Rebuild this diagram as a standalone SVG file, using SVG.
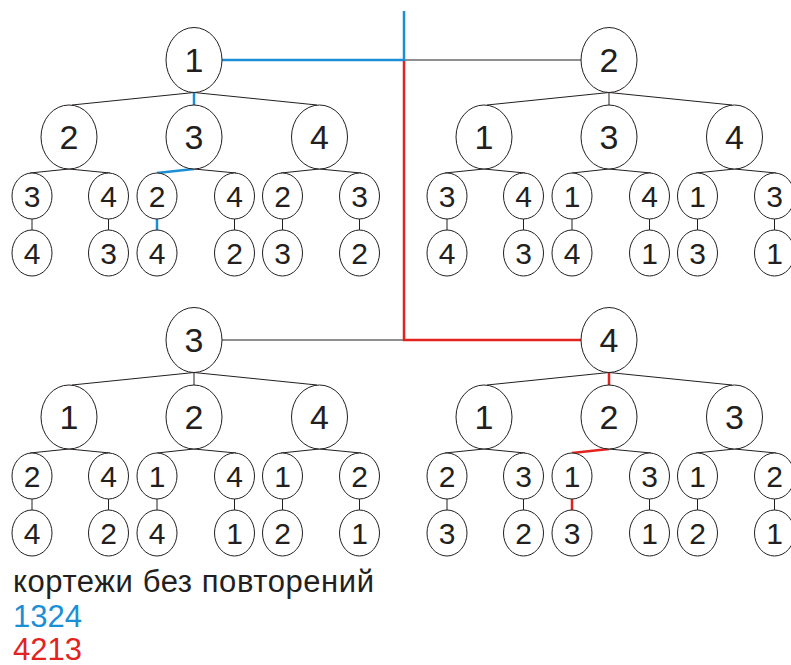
<svg xmlns="http://www.w3.org/2000/svg" width="791" height="665" viewBox="0 0 791 665">
<style>
  .n ellipse { fill: #ffffff; stroke: #231f20; stroke-width: 1; }
  .n text { font-family: "Liberation Sans", Arial, sans-serif; fill: #231f20; text-anchor: middle; }
  .b text { font-size: 34px; }
  .s text { font-size: 30px; }
  .c line { stroke: #231f20; stroke-width: 1; }
  .c line.blue { stroke: #1b8fd6; stroke-width: 2.5; }
  .c line.red { stroke: #e2231f; stroke-width: 2.5; }
  .lbl { font-family: "Liberation Sans", Arial, sans-serif; font-size: 31px; }
</style>
<defs>
  <g id="tree-lines" stroke="#231f20" stroke-width="1">
    <line x1="194" y1="92.5" x2="72" y2="105"/>
    <line x1="194" y1="92.5" x2="317" y2="105"/>
    <line x1="69" y1="169" x2="30" y2="173"/>
    <line x1="69" y1="169" x2="110" y2="173"/>
    <line x1="194" y1="169" x2="236" y2="173"/>
    <line x1="319.5" y1="169" x2="281" y2="173"/>
    <line x1="319.5" y1="169" x2="361" y2="173"/>
    <line x1="32" y1="219" x2="32" y2="230"/>
    <line x1="108.5" y1="219" x2="108.5" y2="230"/>
    <line x1="234.5" y1="219" x2="234.5" y2="230"/>
    <line x1="282.5" y1="219" x2="282.5" y2="230"/>
    <line x1="359.5" y1="219" x2="359.5" y2="230"/>
  </g>
</defs>
<g id="connectors" class="c">
  <line x1="404" y1="60" x2="581" y2="60"/>
  <line x1="222" y1="340" x2="404" y2="340"/>
  <line class="blue" x1="404" y1="11" x2="404" y2="61"/>
  <line class="blue" x1="222" y1="60" x2="404" y2="60"/>
  <line class="red" x1="404" y1="61" x2="404" y2="341"/>
  <line class="red" x1="403" y1="340" x2="581" y2="340"/>
  <g id="lines-t1">
    <use href="#tree-lines"/>
    <line class="blue" x1="194" y1="92.5" x2="194" y2="105"/>
    <line class="blue" x1="194" y1="169" x2="157" y2="173"/>
    <line class="blue" x1="157" y1="219" x2="157" y2="230"/>
  </g>
  <g id="lines-t2" transform="translate(415,0)">
    <use href="#tree-lines"/>
    <line x1="194" y1="92.5" x2="194" y2="105"/>
    <line x1="194" y1="169" x2="157" y2="173"/>
    <line x1="157" y1="219" x2="157" y2="230"/>
  </g>
  <g id="lines-t3" transform="translate(0,280)">
    <use href="#tree-lines"/>
    <line x1="194" y1="92.5" x2="194" y2="105"/>
    <line x1="194" y1="169" x2="157" y2="173"/>
    <line x1="157" y1="219" x2="157" y2="230"/>
  </g>
  <g id="lines-t4" transform="translate(415,280)">
    <use href="#tree-lines"/>
    <line class="red" x1="194" y1="92.5" x2="194" y2="105"/>
    <line class="red" x1="194" y1="169" x2="157" y2="173"/>
    <line class="red" x1="157" y1="219" x2="157" y2="230"/>
  </g>
</g>

<g id="tree1">
  <g id="t1-root" class="n b"><ellipse cx="194" cy="60" rx="28" ry="32.5"/><text x="194" y="72">1</text></g>
  <g id="t1-a" class="n b"><ellipse cx="69" cy="137" rx="28" ry="32"/><text x="69" y="149">2</text></g>
  <g id="t1-b" class="n b"><ellipse cx="194" cy="137" rx="28" ry="32"/><text x="194" y="149">3</text></g>
  <g id="t1-c" class="n b"><ellipse cx="319.5" cy="137" rx="28" ry="32"/><text x="319.5" y="149">4</text></g>
  <g id="t1-a1" class="n s"><ellipse cx="32" cy="196" rx="20" ry="23"/><text x="32" y="206.8">3</text></g>
  <g id="t1-a2" class="n s"><ellipse cx="108.5" cy="196" rx="20" ry="23"/><text x="108.5" y="206.8">4</text></g>
  <g id="t1-b1" class="n s"><ellipse cx="157" cy="196" rx="20" ry="23"/><text x="157" y="206.8">2</text></g>
  <g id="t1-b2" class="n s"><ellipse cx="234.5" cy="196" rx="20" ry="23"/><text x="234.5" y="206.8">4</text></g>
  <g id="t1-c1" class="n s"><ellipse cx="282.5" cy="196" rx="20" ry="23"/><text x="282.5" y="206.8">2</text></g>
  <g id="t1-c2" class="n s"><ellipse cx="359.5" cy="196" rx="20" ry="23"/><text x="359.5" y="206.8">3</text></g>
  <g id="t1-a1x" class="n s"><ellipse cx="32" cy="253" rx="20" ry="23"/><text x="32" y="263.8">4</text></g>
  <g id="t1-a2x" class="n s"><ellipse cx="108.5" cy="253" rx="20" ry="23"/><text x="108.5" y="263.8">3</text></g>
  <g id="t1-b1x" class="n s"><ellipse cx="157" cy="253" rx="20" ry="23"/><text x="157" y="263.8">4</text></g>
  <g id="t1-b2x" class="n s"><ellipse cx="234.5" cy="253" rx="20" ry="23"/><text x="234.5" y="263.8">2</text></g>
  <g id="t1-c1x" class="n s"><ellipse cx="282.5" cy="253" rx="20" ry="23"/><text x="282.5" y="263.8">3</text></g>
  <g id="t1-c2x" class="n s"><ellipse cx="359.5" cy="253" rx="20" ry="23"/><text x="359.5" y="263.8">2</text></g>
</g>

<g id="tree2" transform="translate(415,0)">
  <g id="t2-root" class="n b"><ellipse cx="194" cy="60" rx="28" ry="32.5"/><text x="194" y="72">2</text></g>
  <g id="t2-a" class="n b"><ellipse cx="69" cy="137" rx="28" ry="32"/><text x="69" y="149">1</text></g>
  <g id="t2-b" class="n b"><ellipse cx="194" cy="137" rx="28" ry="32"/><text x="194" y="149">3</text></g>
  <g id="t2-c" class="n b"><ellipse cx="319.5" cy="137" rx="28" ry="32"/><text x="319.5" y="149">4</text></g>
  <g id="t2-a1" class="n s"><ellipse cx="32" cy="196" rx="20" ry="23"/><text x="32" y="206.8">3</text></g>
  <g id="t2-a2" class="n s"><ellipse cx="108.5" cy="196" rx="20" ry="23"/><text x="108.5" y="206.8">4</text></g>
  <g id="t2-b1" class="n s"><ellipse cx="157" cy="196" rx="20" ry="23"/><text x="157" y="206.8">1</text></g>
  <g id="t2-b2" class="n s"><ellipse cx="234.5" cy="196" rx="20" ry="23"/><text x="234.5" y="206.8">4</text></g>
  <g id="t2-c1" class="n s"><ellipse cx="282.5" cy="196" rx="20" ry="23"/><text x="282.5" y="206.8">1</text></g>
  <g id="t2-c2" class="n s"><ellipse cx="359.5" cy="196" rx="20" ry="23"/><text x="359.5" y="206.8">3</text></g>
  <g id="t2-a1x" class="n s"><ellipse cx="32" cy="253" rx="20" ry="23"/><text x="32" y="263.8">4</text></g>
  <g id="t2-a2x" class="n s"><ellipse cx="108.5" cy="253" rx="20" ry="23"/><text x="108.5" y="263.8">3</text></g>
  <g id="t2-b1x" class="n s"><ellipse cx="157" cy="253" rx="20" ry="23"/><text x="157" y="263.8">4</text></g>
  <g id="t2-b2x" class="n s"><ellipse cx="234.5" cy="253" rx="20" ry="23"/><text x="234.5" y="263.8">1</text></g>
  <g id="t2-c1x" class="n s"><ellipse cx="282.5" cy="253" rx="20" ry="23"/><text x="282.5" y="263.8">3</text></g>
  <g id="t2-c2x" class="n s"><ellipse cx="359.5" cy="253" rx="20" ry="23"/><text x="359.5" y="263.8">1</text></g>
</g>

<g id="tree3" transform="translate(0,280)">
  <g id="t3-root" class="n b"><ellipse cx="194" cy="60" rx="28" ry="32.5"/><text x="194" y="72">3</text></g>
  <g id="t3-a" class="n b"><ellipse cx="69" cy="137" rx="28" ry="32"/><text x="69" y="149">1</text></g>
  <g id="t3-b" class="n b"><ellipse cx="194" cy="137" rx="28" ry="32"/><text x="194" y="149">2</text></g>
  <g id="t3-c" class="n b"><ellipse cx="319.5" cy="137" rx="28" ry="32"/><text x="319.5" y="149">4</text></g>
  <g id="t3-a1" class="n s"><ellipse cx="32" cy="196" rx="20" ry="23"/><text x="32" y="206.8">2</text></g>
  <g id="t3-a2" class="n s"><ellipse cx="108.5" cy="196" rx="20" ry="23"/><text x="108.5" y="206.8">4</text></g>
  <g id="t3-b1" class="n s"><ellipse cx="157" cy="196" rx="20" ry="23"/><text x="157" y="206.8">1</text></g>
  <g id="t3-b2" class="n s"><ellipse cx="234.5" cy="196" rx="20" ry="23"/><text x="234.5" y="206.8">4</text></g>
  <g id="t3-c1" class="n s"><ellipse cx="282.5" cy="196" rx="20" ry="23"/><text x="282.5" y="206.8">1</text></g>
  <g id="t3-c2" class="n s"><ellipse cx="359.5" cy="196" rx="20" ry="23"/><text x="359.5" y="206.8">2</text></g>
  <g id="t3-a1x" class="n s"><ellipse cx="32" cy="253" rx="20" ry="23"/><text x="32" y="263.8">4</text></g>
  <g id="t3-a2x" class="n s"><ellipse cx="108.5" cy="253" rx="20" ry="23"/><text x="108.5" y="263.8">2</text></g>
  <g id="t3-b1x" class="n s"><ellipse cx="157" cy="253" rx="20" ry="23"/><text x="157" y="263.8">4</text></g>
  <g id="t3-b2x" class="n s"><ellipse cx="234.5" cy="253" rx="20" ry="23"/><text x="234.5" y="263.8">1</text></g>
  <g id="t3-c1x" class="n s"><ellipse cx="282.5" cy="253" rx="20" ry="23"/><text x="282.5" y="263.8">2</text></g>
  <g id="t3-c2x" class="n s"><ellipse cx="359.5" cy="253" rx="20" ry="23"/><text x="359.5" y="263.8">1</text></g>
</g>

<g id="tree4" transform="translate(415,280)">
  <g id="t4-root" class="n b"><ellipse cx="194" cy="60" rx="28" ry="32.5"/><text x="194" y="72">4</text></g>
  <g id="t4-a" class="n b"><ellipse cx="69" cy="137" rx="28" ry="32"/><text x="69" y="149">1</text></g>
  <g id="t4-b" class="n b"><ellipse cx="194" cy="137" rx="28" ry="32"/><text x="194" y="149">2</text></g>
  <g id="t4-c" class="n b"><ellipse cx="319.5" cy="137" rx="28" ry="32"/><text x="319.5" y="149">3</text></g>
  <g id="t4-a1" class="n s"><ellipse cx="32" cy="196" rx="20" ry="23"/><text x="32" y="206.8">2</text></g>
  <g id="t4-a2" class="n s"><ellipse cx="108.5" cy="196" rx="20" ry="23"/><text x="108.5" y="206.8">3</text></g>
  <g id="t4-b1" class="n s"><ellipse cx="157" cy="196" rx="20" ry="23"/><text x="157" y="206.8">1</text></g>
  <g id="t4-b2" class="n s"><ellipse cx="234.5" cy="196" rx="20" ry="23"/><text x="234.5" y="206.8">3</text></g>
  <g id="t4-c1" class="n s"><ellipse cx="282.5" cy="196" rx="20" ry="23"/><text x="282.5" y="206.8">1</text></g>
  <g id="t4-c2" class="n s"><ellipse cx="359.5" cy="196" rx="20" ry="23"/><text x="359.5" y="206.8">2</text></g>
  <g id="t4-a1x" class="n s"><ellipse cx="32" cy="253" rx="20" ry="23"/><text x="32" y="263.8">3</text></g>
  <g id="t4-a2x" class="n s"><ellipse cx="108.5" cy="253" rx="20" ry="23"/><text x="108.5" y="263.8">2</text></g>
  <g id="t4-b1x" class="n s"><ellipse cx="157" cy="253" rx="20" ry="23"/><text x="157" y="263.8">3</text></g>
  <g id="t4-b2x" class="n s"><ellipse cx="234.5" cy="253" rx="20" ry="23"/><text x="234.5" y="263.8">1</text></g>
  <g id="t4-c1x" class="n s"><ellipse cx="282.5" cy="253" rx="20" ry="23"/><text x="282.5" y="263.8">2</text></g>
  <g id="t4-c2x" class="n s"><ellipse cx="359.5" cy="253" rx="20" ry="23"/><text x="359.5" y="263.8">1</text></g>
</g>

<g id="legend">
  <text class="lbl" x="13" y="592" textLength="361" fill="#231f20">кортежи без повторений</text>
  <text class="lbl" x="13" y="626.5" fill="#1b8fd6">1324</text>
  <text class="lbl" x="13" y="659.5" fill="#e2231f">4213</text>
</g>
</svg>
